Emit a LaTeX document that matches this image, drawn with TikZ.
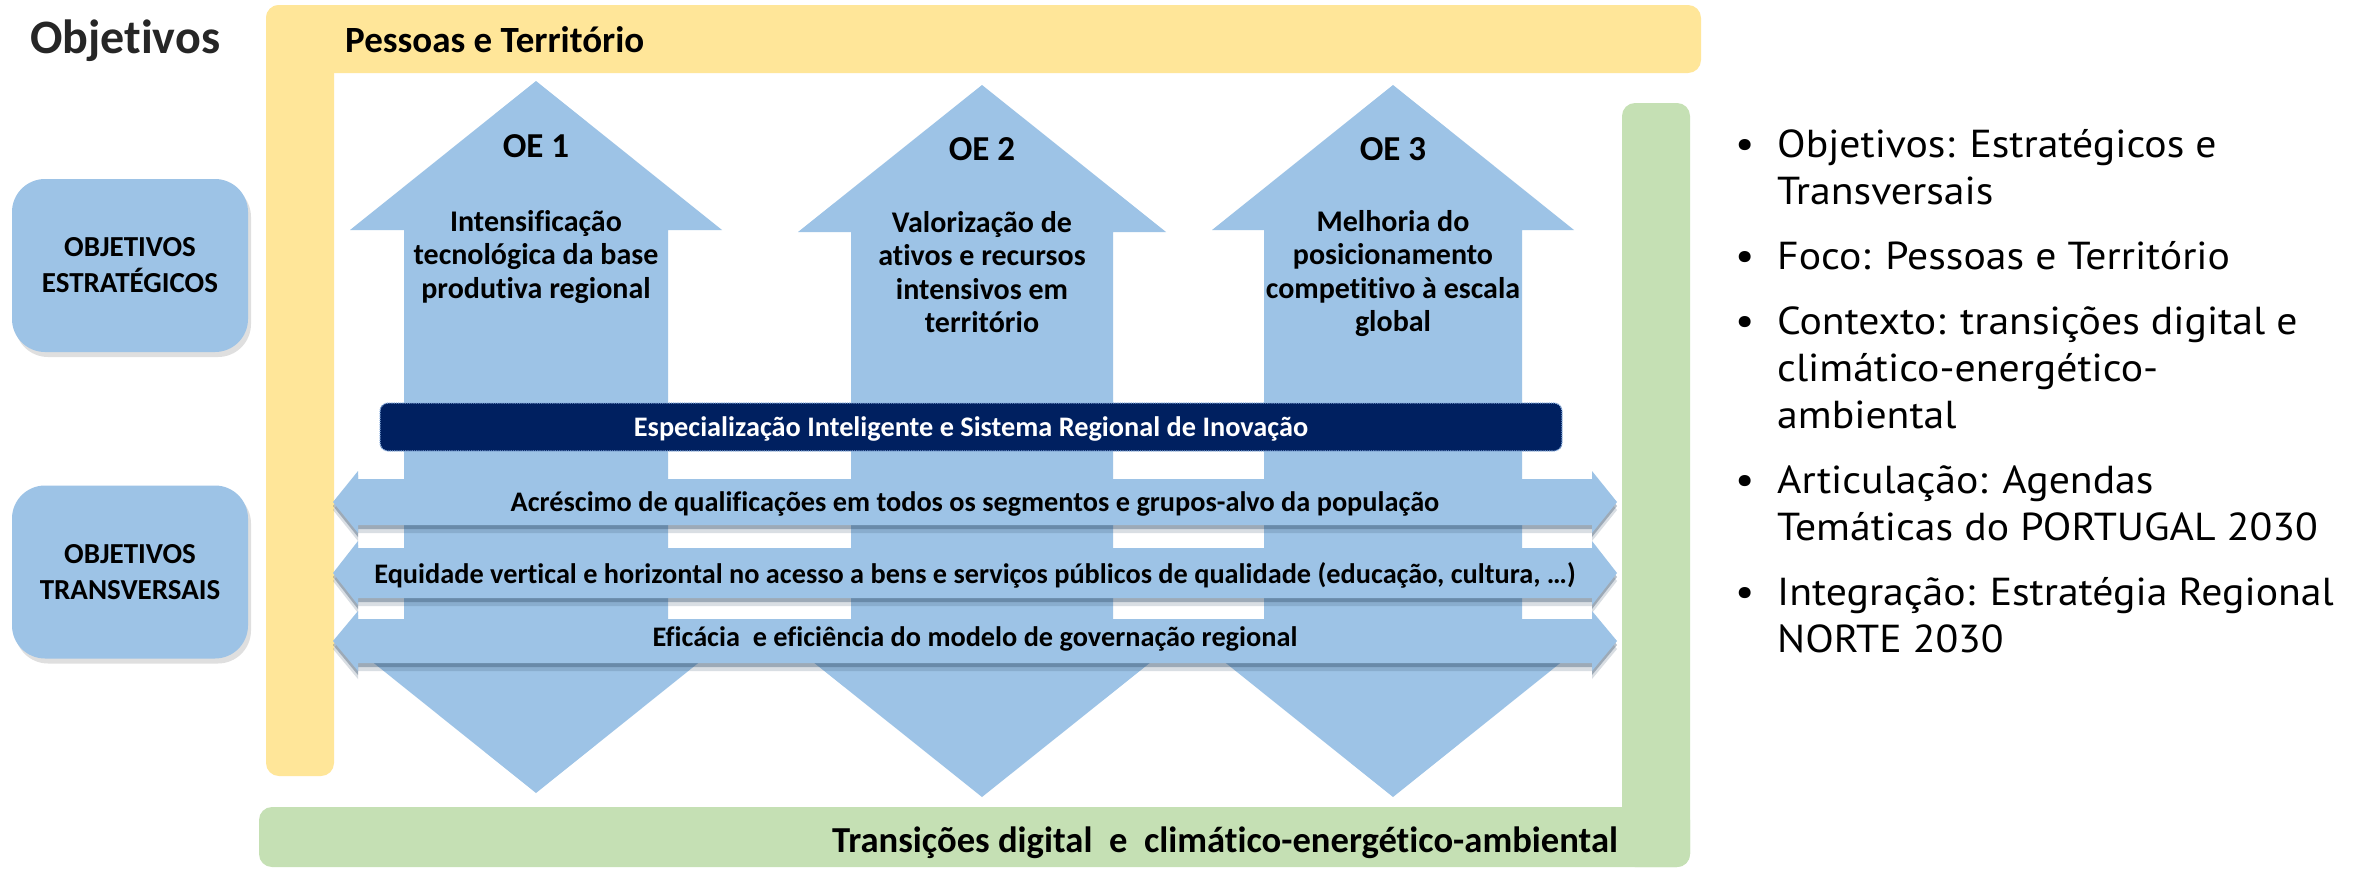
\documentclass[tikz,border=0pt]{standalone}
\usepackage{fontspec}
\setmainfont{Carlito}[Ligatures=NoCommon]
\newfontfamily\dinfont{PT Sans}[FakeStretch=1.07]
\usetikzlibrary{shadows}
\definecolor{ylw}{HTML}{FFE699}
\definecolor{grn}{HTML}{C5E0B4}
\definecolor{blu}{HTML}{9DC3E6}
\definecolor{nav}{HTML}{002060}
\definecolor{ttl}{HTML}{262626}
\definecolor{dotb}{HTML}{8FB4E3}
\definecolor{shd}{HTML}{2F4A66}
\newcommand\fsz[2]{\fontsize{#1}{#2}\selectfont}
\newcommand\vdarrow[6]{\fill[blu] (#1,#2) -- ({#1+#4},{#2+#6}) -- ({#1+#5},{#2+#6}) -- ({#1+#5},{#3-#6}) -- ({#1+#4},{#3-#6}) -- (#1,#3) -- ({#1-#4},{#3-#6}) -- ({#1-#5},{#3-#6}) -- ({#1-#5},{#2+#6}) -- ({#1-#4},{#2+#6}) -- cycle;}
\newcommand\hdarrow[6]{\fill[blu, hshadow] (#1,#3) -- ({#1+#6},{#3-#5}) -- ({#1+#6},{#3-#4}) -- ({#2-#6},{#3-#4}) -- ({#2-#6},{#3-#5}) -- (#2,#3) -- ({#2-#6},{#3+#5}) -- ({#2-#6},{#3+#4}) -- ({#1+#6},{#3+#4}) -- ({#1+#6},{#3+#5}) -- cycle;}
\newcommand\linesat[6]{\foreach \tx [count=\i] in {#6} {\node[#5] (#1\i) at (#2,{#3+(\i-1)*#4}) {\tx};}}
\tikzset{
  tx/.style={inner sep=0pt, anchor=base},
  oetxt/.style={tx, font=\bfseries\fsz{30}{34}},
  oelbl/.style={tx, font=\bfseries\fsz{35}{40}},
  hatxt/.style={tx, font=\bfseries\fsz{28.3}{32}},
  blt/.style={tx, anchor=base west, font=\dinfont\fsz{39}{47}},
  bdot/.style={tx, font=\dinfont\fsz{40}{47}},
  hshadow/.style={drop shadow={opacity=0.18, shadow xshift=0pt, shadow yshift=-8pt, fill=shd},
                  drop shadow={opacity=0.35, shadow xshift=0pt, shadow yshift=-4pt, fill=shd}},
  sidebox/.style={fill=blu, rounded corners=33pt, minimum width=236pt, minimum height=173pt,
    align=center, inner sep=0pt, font=\bfseries\fsz{29}{36},
    drop shadow={opacity=0.25, shadow xshift=3pt, shadow yshift=-5pt}},
}
\begin{document}
\begin{tikzpicture}[x=1pt, y=-1pt]
\useasboundingbox (0,0) rectangle (2367,870);
\fill[white] (0,0) rectangle (2367,870);
% yellow L
\fill[ylw, rounded corners=13pt] (266,5) rectangle (1701,73);
\fill[ylw, rounded corners=13pt] (266,5) rectangle (334,776);
% green L
\fill[grn, rounded corners=13pt] (1622,103) rectangle (1690,867);
\fill[grn, rounded corners=13pt] (259,807) rectangle (1690,867);
% vertical double arrows
\vdarrow{536}{81}{793}{186}{132}{149}
\vdarrow{982}{85}{797}{184}{131}{147}
\vdarrow{1393}{85}{797}{181}{129}{145}
% navy bar
\fill[nav, rounded corners=8pt] (380,403) rectangle (1562,451);
\draw[dotb, densely dotted, line width=1.2pt, rounded corners=8pt] (380,403) rectangle (1562,451);
% horizontal double arrows
\hdarrow{333}{1617}{502}{23}{31}{25}
\hdarrow{333}{1617}{573}{25}{32}{25}
\hdarrow{333}{1617}{641}{22}{30}{25}
% titles
\node[tx, anchor=base west, font=\bfseries\fsz{48}{56}, text=ttl] (title) at (30,53) {Objetivos};
\node[tx, anchor=base west, font=\bfseries\fsz{37}{42}] (pt) at (345,52) {Pessoas e Território};
\node[tx, anchor=base west, font=\bfseries\fsz{36.6}{42}] (tr) at (832,852) {Transições digital\ \ e\ \ climático-energético-ambiental};
% side boxes
\node[sidebox] (oes) at (130,265.5) {OBJETIVOS\\ESTRATÉGICOS};
\node[sidebox] (oet) at (130,572) {OBJETIVOS\\TRANSVERSAIS};
% OE labels
\node[oelbl] (oe1) at (536,157) {OE 1};
\node[oelbl] (oe2) at (982,160) {OE 2};
\node[oelbl] (oe3) at (1393,160) {OE 3};
\linesat{oea}{536}{231}{33.5}{oetxt}{Intensificação,tecnológica da base,produtiva regional}
\linesat{oeb}{982}{232}{33.5}{oetxt}{Valorização de,ativos e recursos,intensivos em,território}
\linesat{oec}{1393}{231}{33.5}{oetxt}{Melhoria do,posicionamento,competitivo à escala,global}
% navy text
\node[hatxt, text=white] (spec) at (971,436) {Especialização Inteligente e Sistema Regional de Inovação};
% arrow texts
\node[hatxt] (h1) at (975,511) {Acréscimo de qualificações em todos os segmentos e grupos-alvo da população};
\node[hatxt] (h2) at (975,583) {Equidade vertical e horizontal no acesso a bens e serviços públicos de qualidade (educação, cultura, …)};
\node[hatxt] (h3) at (975,646) {Eficácia\ \ e eficiência do modelo de governação regional};
% bullets
\foreach \yy [count=\k] in {157,269,334,493,605} {\node[bdot] (bd\k) at (1745,\yy) {•};}
\linesat{ba}{1777}{157}{47}{blt}{Objetivos: Estratégicos e,Transversais}
\linesat{bb}{1777}{269}{47}{blt}{Foco: Pessoas e Território}
\linesat{bc}{1777}{334}{47}{blt}{Contexto: transições digital e,climático-energético-,ambiental}
\linesat{bd}{1777}{493}{47}{blt}{Articulação: Agendas,Temáticas do PORTUGAL 2030}
\linesat{be}{1777}{605}{47}{blt}{Integração: Estratégia Regional,NORTE 2030}
\end{tikzpicture}
\end{document}
